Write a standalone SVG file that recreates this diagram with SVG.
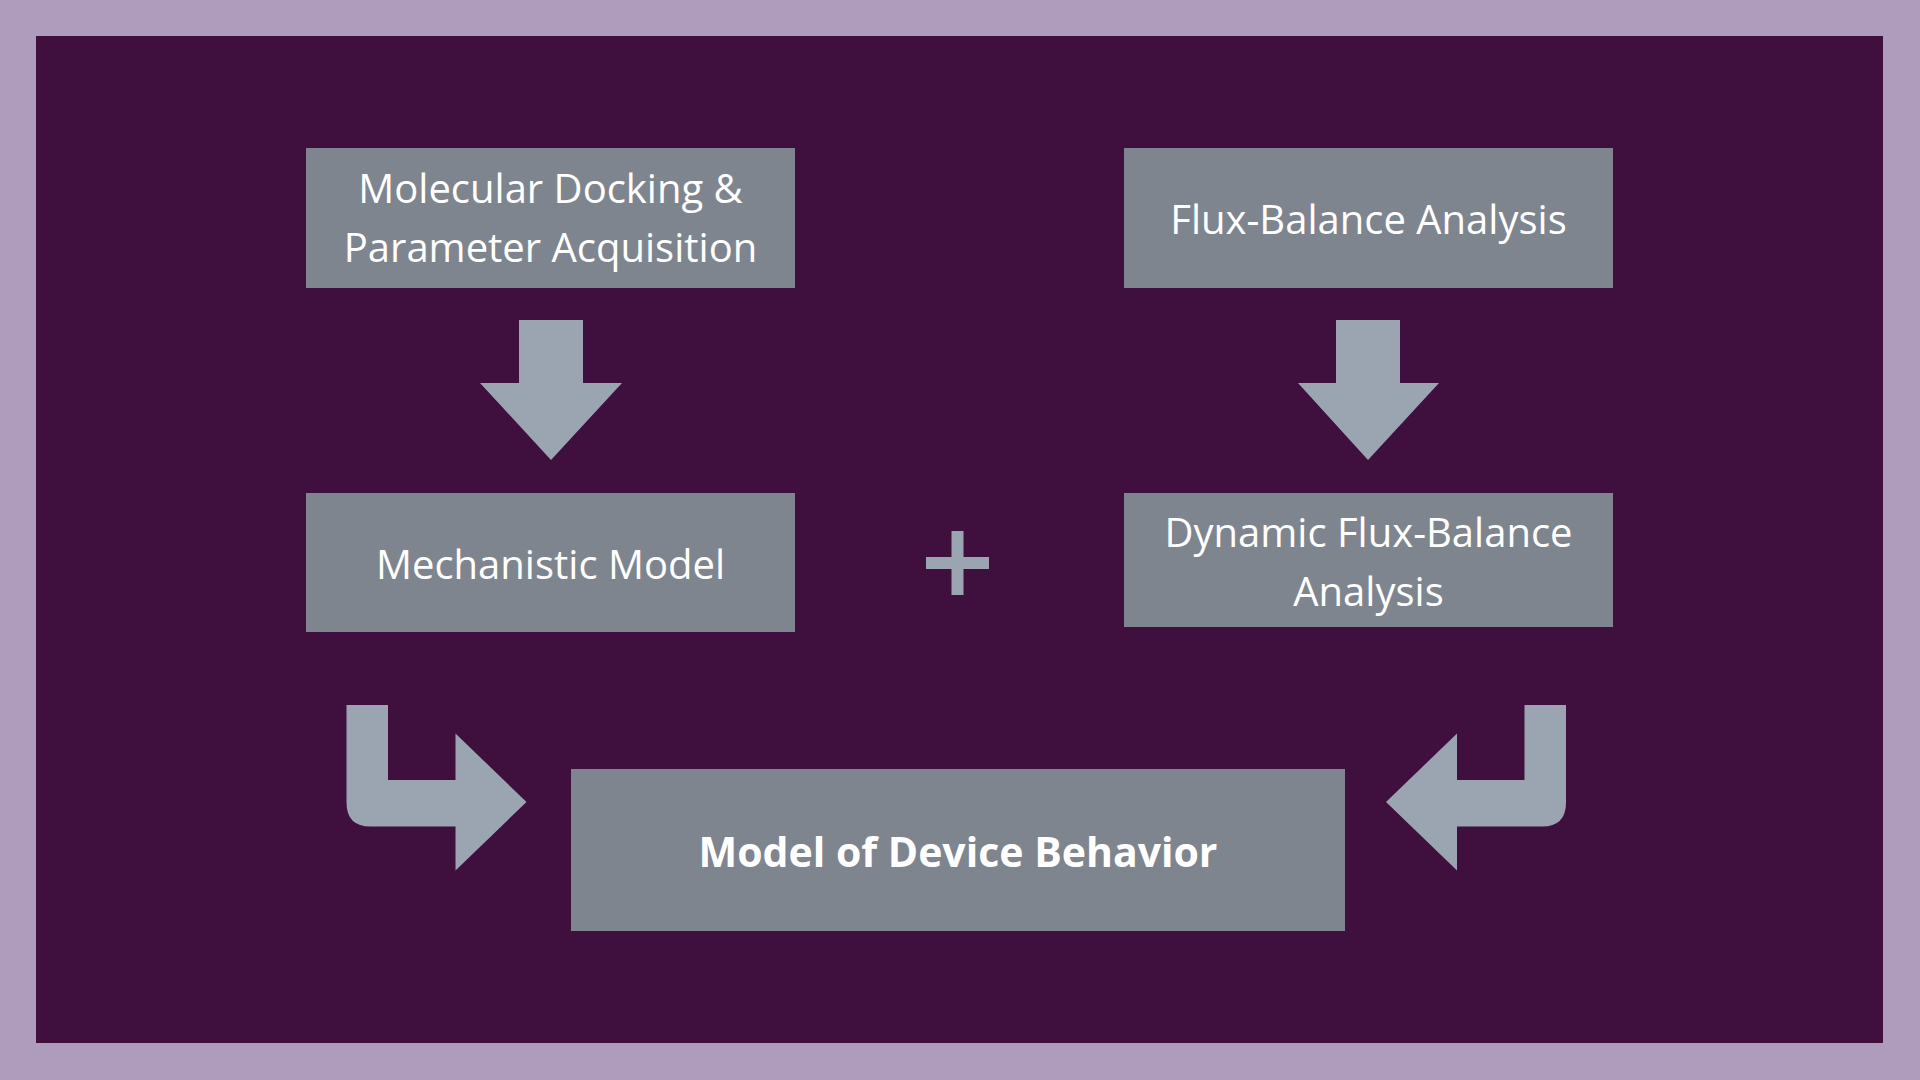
<svg xmlns="http://www.w3.org/2000/svg" width="1920" height="1080" viewBox="0 0 1920 1080">
<style>
.box{fill:#7F858E}
.arr{fill:#9AA5B1}
.t{fill:#FFFFFF;font-family:"Open Sans","Liberation Sans",sans-serif;font-size:40px;text-anchor:middle;dominant-baseline:central}
.b{font-weight:bold;font-size:41px}
</style>
<rect width="1920" height="1080" fill="#AF9BBB"/>
<rect x="36" y="36" width="1847" height="1007" fill="#3F0F3D"/>
<g id="n1"><rect class="box" x="306" y="148" width="489" height="140"/><text class="t" x="550.5" y="187">Molecular Docking &amp;</text><text class="t" x="550.5" y="246">Parameter Acquisition</text></g>
<g id="n2"><rect class="box" x="1124" y="148" width="489" height="140"/><text class="t" x="1368.5" y="218">Flux-Balance Analysis</text></g>
<g id="n3"><rect class="box" x="306" y="493" width="489" height="139"/><text class="t" x="550.5" y="563">Mechanistic Model</text></g>
<g id="n4"><rect class="box" x="1124" y="493" width="489" height="134"/><text class="t" x="1368.5" y="531">Dynamic Flux-Balance</text><text class="t" x="1368.5" y="590">Analysis</text></g>
<g id="n5"><rect class="box" x="571" y="769" width="774" height="162"/><text class="t b" x="958" y="851">Model of Device Behavior</text></g>
<g id="connectors">
<path class="arr" d="M519,320 H583 V383 H622 L551,460 L480,383 H519 Z"/>
<path class="arr" d="M1336,320 H1400 V383 H1439 L1368,460 L1298,383 H1336 Z"/>
<path class="arr" d="M951.5,531 H963.5 V557 H989 V569 H963.5 V595 H951.5 V569 H926 V557 H951.5 Z"/>
<path class="arr" d="M346.5,705 H388 V780 H455.5 V733.5 L526.5,802 L455.5,870.5 V826.5 H370.5 Q346.5,826.5 346.5,802.5 Z"/>
<path class="arr" d="M1566,705 H1524.5 V780 H1457 V733.5 L1386,802 L1457,870.5 V826.5 H1542 Q1566,826.5 1566,802.5 Z"/>
</g>
</svg>
